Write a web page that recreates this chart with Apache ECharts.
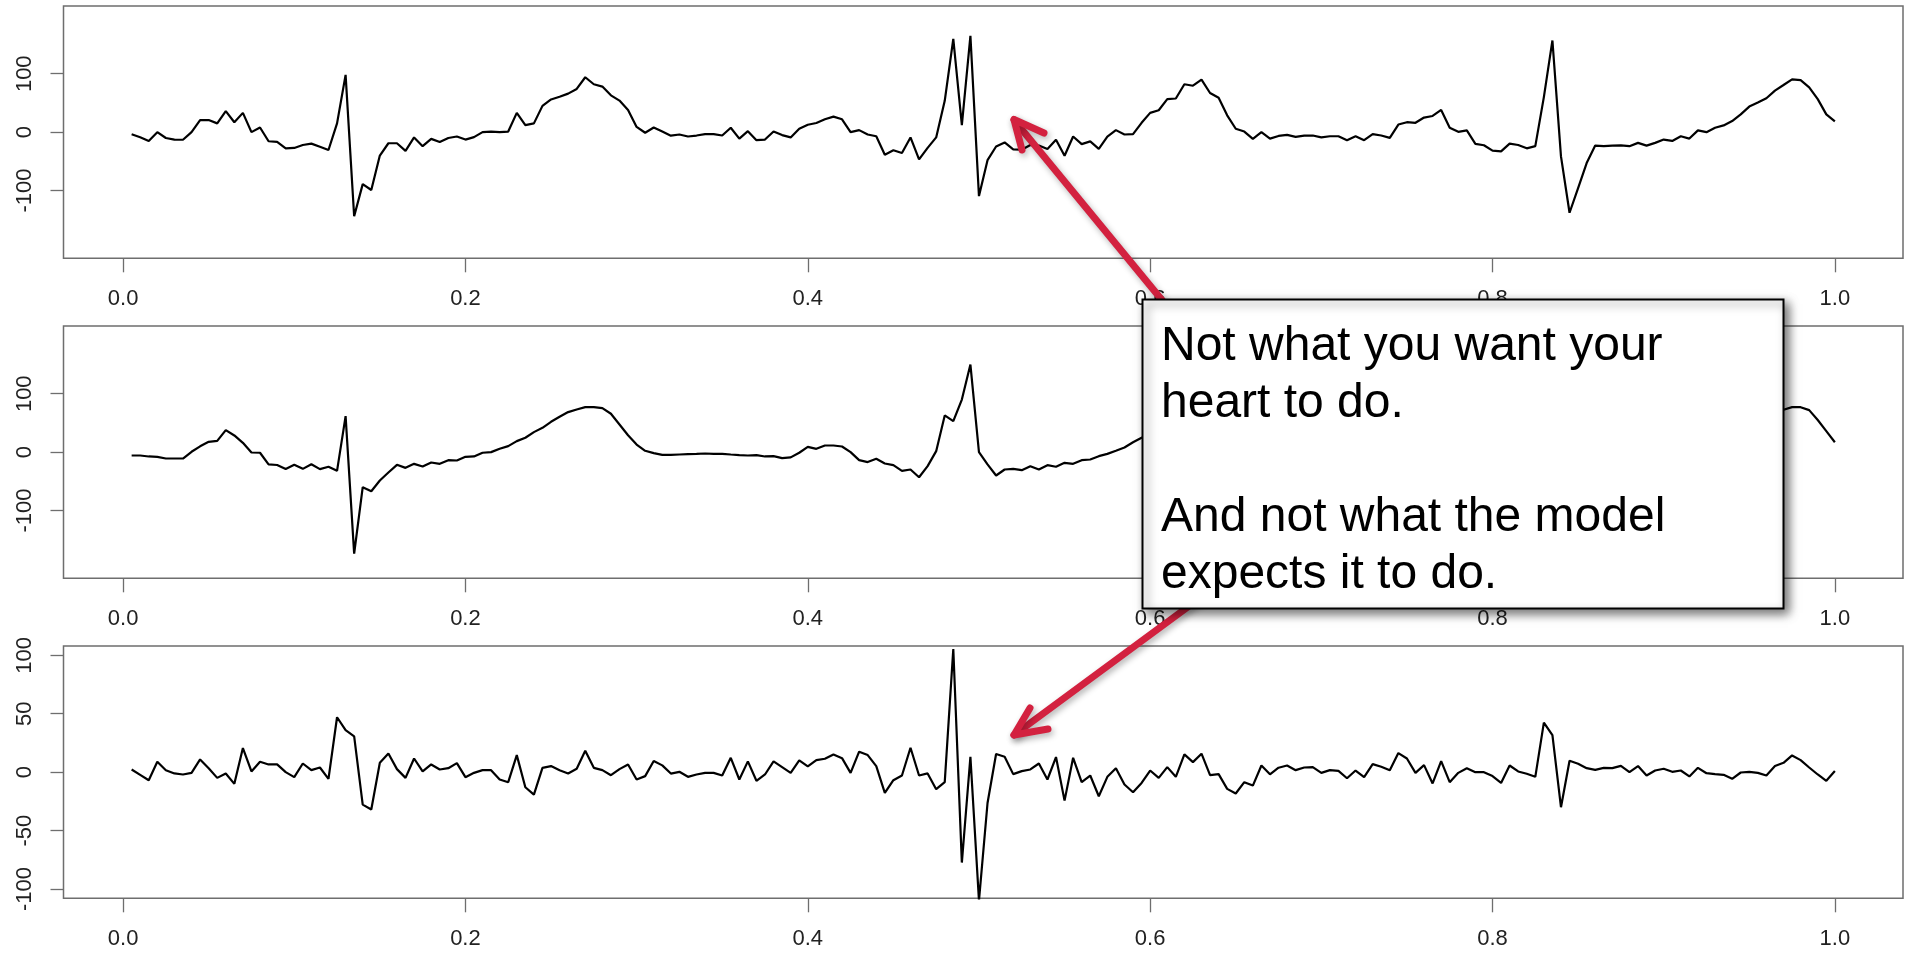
<!DOCTYPE html>
<html><head><meta charset="utf-8">
<script src="https://cdn.jsdelivr.net/npm/echarts@6/dist/echarts.min.js"></script>
<style>html,body{margin:0;padding:0;background:#fff}#c{width:1907px;height:953px}</style>
</head><body><div id="c"></div>
<script>
// sample spacing along x (200 samples from 0.005 to 1.0)
const sampleStep = 0.005;

// panel 1: observed ECG
const observed = [
-3.5,-8.6,-15,0,-10,-12.7,-13,0,20.7,20.7,15,36,17,33,0,8,-15.6,-16.7,-27.7,-27,
-22,-19.6,-25,-30.5,15,98,-144,-89,-99,-40,-19,-19,-32,-9,-24,-11.5,-17,-10,-7.5,-12.7,
-8.6,0,1,0,1,33,12,15,45,56,60.5,66,74,94,82,78,63,54,38,9,
-1,8,1,-6,-4,-7.5,-5.8,-3.5,-3.5,-5.8,7.5,-11,1.7,-13.8,-12.7,1,-5,-9,6,12.7,
15.6,22,26.5,22,0,3.5,-4,-7,-38.6,-31,-35.7,-9,-46.7,-27,-9,53.6,159.7,12,164.8,-109.5,
-48,-24.5,-17.6,-29.5,-30,-22,-23,-29,-13,-40.5,-7.4,-20.5,-15.8,-28.5,-7.5,3.5,-4,-3.5,16,33,
37.5,56.5,57.6,82,79.5,90,67,58.8,28.8,5.8,1,-11.5,0,-11,-6.5,-4.6,-8,-5.8,-5.8,-9,
-7,-7,-13.8,-7,-13.8,-3.5,-5.8,-9.8,13,17,16,25,27.7,38,7.5,0.5,3,-20,-22.5,-31.7,
-32.9,-19.6,-22,-27.7,-24,60,157,-41.5,-138,-96,-53,-23,-24,-23,-22.5,-24,-18.4,-23,-18.4,-12.7,
-15,-7,-11,3,0,7.5,11.5,19,30.5,43.8,50.7,58,71,80.7,90.5,89,76.7,56.5,30.5,18.4
];

// panel 2: model fit
const fitted = [
-5.7,-5.7,-7.4,-8,-10.9,-10.9,-10.9,0.6,10,17.7,19.4,37.7,28.6,16,-0.6,-1,-21,-22,-29,-21.7,
-28.6,-20.6,-29,-25,-32,61.7,-173.7,-60,-66.9,-48.6,-34.9,-21.7,-26.9,-20,-24.6,-17.7,-20,-13.7,-14.3,-8,
-7.4,-1,0,5.7,10.3,18.9,24.6,34.3,41.7,52,60.6,68.6,73,77,77,75.4,65.7,47.4,29,13,
2.3,-1.7,-4.6,-4.6,-4,-3.4,-2.9,-2.3,-2.9,-2.9,-4,-5,-5.7,-5,-7.4,-6.9,-10.3,-9,-1,9,
5.7,11.4,11.4,9.7,0,-13.7,-17,-11.4,-19.4,-22.3,-32,-29.7,-42.9,-24,1.7,62.9,53,90,150,0,
-21,-40,-29.7,-28.6,-30.9,-24,-29.7,-22.3,-25,-18.3,-20,-13.7,-12.6,-6.9,-2.9,2.3,8,17,24.6,31.6,
42.4,52.2,61.6,66.8,70.9,74.2,69.6,60.5,43.1,24.1,9.6,0,-5.7,-9,-10.5,-10.3,-9.7,-9.8,-10.1,-8.4,
-8.7,-8.1,-8.6,-8.4,-9.5,-10.4,-10.4,-11.5,-3.3,5.3,16.6,19,37.4,28.5,16.1,1.1,-0.4,-20,-22.5,-28.3,
-23.7,-25.3,-22.6,-26.3,-20,17.6,125.2,-11.5,-147.7,-103,-56.4,-25,-27.7,-26.4,-27.9,-24,-23.6,-20.1,-19.8,-15.6,
-15.3,-8.4,-7.3,-0.7,0.9,9.2,13.8,24.7,30.8,43.5,51.3,60.9,65.8,72.7,77,77,72,55,36,17
];

// panel 3: residual
const residual = [
2.3,-2.3,-6.9,8.9,1.7,-1.1,-2,-0.6,10.9,3.4,-4.9,-1.1,-10,20.6,0.6,8.9,6.6,6.6,0,-4.3,
7.4,1.7,4,-5.7,47,36,30.7,-27.8,-32,8,16,2.6,-4.9,11.7,0.6,6.6,2.3,3.4,7.7,-4.3,
-0.6,1.7,1.7,-6.3,-8.6,14.6,-12.9,-19.2,3.7,5.2,1.7,-1.1,2.9,18.3,3.7,1.7,-2.6,2.6,6.6,-6.3,
-3.4,9.5,5.8,-1.2,0.3,-4,-2,-0.6,-0.6,-2.9,12.3,-6.3,9.2,-7.4,-2,9.2,4.3,-0.6,10,4.9,
10.3,11.5,15.2,12,-0.6,17.5,14.6,5.2,-17.8,-6.9,-2.9,20.9,-2.9,-1.1,-14.6,-8.6,105.4,-77.4,13.2,-110,
-26.4,15.5,13.2,-1.7,0.9,2.3,7.4,-6.3,12.9,-24.4,12.3,-8.6,-2.9,-20.6,-4,3.4,-10.6,-17.2,-9.2,1.4,
-4.9,4.3,-4,15.2,8.6,15.8,-2.6,-1.7,-14.3,-18.3,-8.6,-11.5,5.7,-1.8,3.8,5.7,1.7,4,4.3,-0.6,
1.7,1.1,-5.2,1.4,-4.3,6.9,4.6,1.7,16.3,11.7,-0.6,6,-9.7,9.5,-8.6,-0.6,3.4,0,0,-3.4,
-9.2,5.7,0.6,-1.4,-4,42.4,31.8,-30,9.7,7.2,3.4,2,3.7,3.4,5.4,0,5.2,-2.9,1.4,2.9,
0.3,1.4,-3.7,3.7,-0.9,-1.7,-2.3,-5.7,-0.3,0.3,-0.6,-2.9,5.2,8,14.3,10.3,4,-2,-7.4,0.9
];

const xTicks = [0, 0.2, 0.4, 0.6, 0.8, 1.0];
const yTicksWide = [-100, 0, 100];
const yTicksResidual = [-100, -50, 0, 50, 100];
const noteText = "Not what you want your\nheart to do.\n\nAnd not what the model\nexpects it to do.";

const FONT = "'Liberation Sans', Arial, Helvetica, sans-serif";
const AX = '#6e6e6e';

function pairs(vals){ return vals.map((v,i)=>[(i+1)*sampleStep, v]); }

function xAxis(gi){
  return {type:'value', gridIndex:gi, min:-0.0348, max:1.0398, position:'bottom',
    axisLine:{show:false, onZero:false}, splitLine:{show:false},
    axisTick:{show:true, inside:false, length:14, customValues:xTicks, lineStyle:{color:AX,width:1.3}},
    axisLabel:{show:true, customValues:xTicks, formatter:v=>v.toFixed(1), margin:30,
      fontSize:22, color:'#222', fontFamily:FONT}};
}
function yAxis(gi, lim, ticks){
  return {type:'value', gridIndex:gi, min:-lim, max:lim, position:'left',
    axisLine:{show:false, onZero:false}, splitLine:{show:false},
    axisTick:{show:true, inside:false, length:13, customValues:ticks, lineStyle:{color:AX,width:1.3}},
    axisLabel:{show:true, customValues:ticks, rotate:90, margin:28,
      fontSize:22, color:'#222', fontFamily:FONT, formatter:v=>String(v)}};
}
function grid(top){
  return {left:63.5, top:top, width:1839.5, height:252.3, show:true,
    borderColor:AX, borderWidth:1.5, backgroundColor:'transparent', containLabel:false};
}
function ser(gi, vals){
  return {type:'line', xAxisIndex:gi, yAxisIndex:gi, data:pairs(vals), showSymbol:false,
    symbol:'none', clip:true, lineStyle:{color:'#000', width:2.2}, silent:true};
}

const RED = '#d3213f';
const arrowStyle = {stroke:RED, lineWidth:7, lineCap:'round', lineJoin:'round', fill:null,
  shadowBlur:6, shadowColor:'rgba(0,0,0,0.3)', shadowOffsetX:2, shadowOffsetY:3};

const chart = echarts.init(document.getElementById('c'), null, {renderer:'canvas'});
chart.setOption({
  animation:false,
  backgroundColor:'#fff',
  grid:[grid(6), grid(326), grid(646)],
  xAxis:[xAxis(0), xAxis(1), xAxis(2)],
  yAxis:[yAxis(0,216,yTicksWide), yAxis(1,216,yTicksWide), yAxis(2,108,yTicksResidual)],
  series:[ser(0, observed), ser(1, fitted), ser(2, residual)],
  graphic:[
    {type:'polyline', z:100, shape:{points:[[1014,120],[1180,322]]}, style:arrowStyle},
    {type:'polyline', z:101, shape:{points:[[1044,133],[1014,119.5],[1022,150]]}, style:arrowStyle},
    {type:'polyline', z:100, shape:{points:[[1014,735],[1200,598]]}, style:arrowStyle},
    {type:'polyline', z:101, shape:{points:[[1030,708],[1014,735],[1048,729]]}, style:arrowStyle},
    {type:'rect', z:110, shape:{x:1142.5, y:299.5, width:641, height:309},
      style:{fill:'#fff', stroke:'#000', lineWidth:2,
        shadowBlur:10, shadowColor:'rgba(0,0,0,0.55)', shadowOffsetX:4, shadowOffsetY:4}},
    {type:'text', z:120, x:1161, y:318,
      style:{text:noteText, fill:'#000', font:'48px '+FONT, fontSize:48, fontFamily:FONT,
        lineHeight:57, verticalAlign:'top', align:'left'}}
  ]
});
</script></body></html>
